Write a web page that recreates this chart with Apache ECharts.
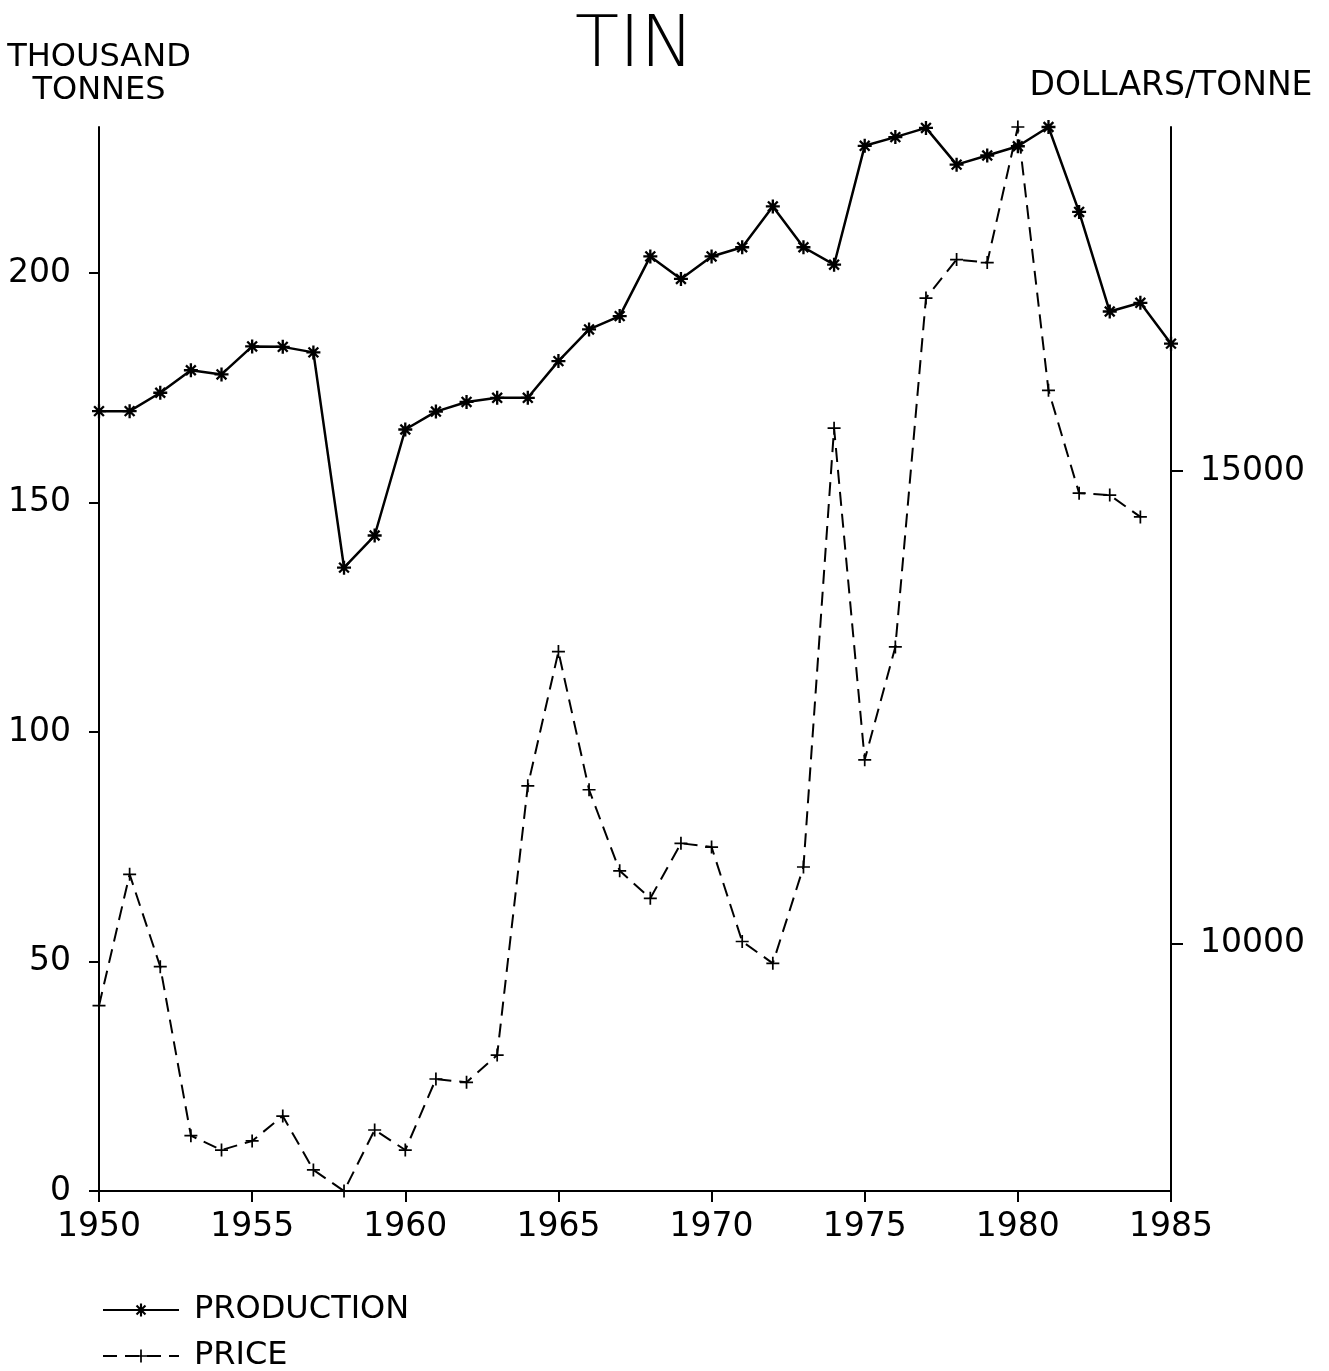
<!DOCTYPE html>
<html>
<head>
<meta charset="utf-8">
<script src="https://cdn.jsdelivr.net/npm/echarts@6/dist/echarts.min.js"></script>
<style>
  html, body { margin: 0; padding: 0; background: #fff; }
  #chart { width: 1329px; height: 1371px; }
</style>
</head>
<body>
<div id="chart"></div>
<script>
  // years and values
  const prodYears = [1950, 1951, 1952, 1953, 1954, 1955, 1956, 1957, 1958, 1959,
    1960, 1961, 1962, 1963, 1964, 1965, 1966, 1967, 1968, 1969,
    1970, 1971, 1972, 1973, 1974, 1975, 1976, 1977, 1978, 1979,
    1980, 1981, 1982, 1983, 1984, 1985]
  const production = [169.9, 169.9, 173.9, 178.8, 177.9, 184.0, 183.9, 182.7, 135.8, 142.8,
    165.9, 169.8, 171.9, 172.8, 172.8, 180.8, 187.7, 190.6, 203.6, 198.7,
    203.6, 205.6, 214.5, 205.6, 201.8, 227.7, 229.6, 231.6, 223.6, 225.6,
    227.6, 231.8, 213.3, 191.6, 193.5, 184.6]
  const priceYears = prodYears.slice(0, 35)
  const price = [9340, 10731, 9753, 7964, 7812, 7908, 8172, 7601, 7378, 8024,
    7812, 8564, 8529, 8818, 11668, 13090, 11627, 10769, 10477, 11060,
    11020, 10020, 9789, 10809, 15456, 11944, 13139, 16834, 17241, 17209,
    18645, 15857, 14767, 14747, 14516]
  const leftTicks = [0, 50, 100, 150, 200]
  const rightTicks = [10000, 15000]

  const font = 'DejaVu Sans'
  const asterisk = 'path://M-1,-6L1,-6L1,-1L6,-1L6,1L1,1L1,6L-1,6L-1,1L-6,1L-6,-1L-1,-1Z' +
    'M-4.9,-3.5L-3.5,-4.9L0,-1.4L3.5,-4.9L4.9,-3.5L1.4,0L4.9,3.5L3.5,4.9L0,1.4L-3.5,4.9L-4.9,3.5L-1.4,0Z'
  const plus = 'path://M-0.8,-6L0.8,-6L0.8,-0.8L6,-0.8L6,0.8L0.8,0.8L0.8,6L-0.8,6L-0.8,0.8L-6,0.8L-6,-0.8L-0.8,-0.8Z'
  const plain = v => String(v)

  const myChart = echarts.init(document.getElementById('chart'))
  const axisLine = { lineStyle: { color: '#000', width: 2 } }
  const legendText = { fontFamily: font, fontSize: 32, color: '#000', padding: [0, 0, 0, 10] }

  const option = {
    backgroundColor: '#fff',
    animation: false,
    title: {
      text: 'TIN',
      left: 570,
      top: 6,
      textStyle: { fontFamily: font, fontSize: 72, fontWeight: 200, color: '#000' }
    },
    legend: [
      {
        left: 97,
        top: 1289,
        itemWidth: 76,
        itemHeight: 16,
        data: ['PRODUCTION'],
        textStyle: legendText
      },
      {
        left: 97,
        top: 1335,
        itemWidth: 76,
        itemHeight: 16,
        data: ['PRICE'],
        textStyle: legendText
      }
    ],
    grid: { left: 99, right: 158, top: 127, bottom: 180 },
    xAxis: {
      type: 'value',
      min: 1950,
      max: 1985,
      interval: 5,
      splitLine: { show: false },
      axisLine: axisLine,
      axisTick: { length: 11, lineStyle: { color: '#000', width: 2 } },
      axisLabel: { fontFamily: font, fontSize: 33, color: '#000', margin: 20, formatter: plain }
    },
    yAxis: [
      {
        type: 'value',
        min: 0,
        max: 'dataMax',
        name: 'THOUSAND\nTONNES',
        nameLocation: 'end',
        nameGap: 20,
        nameTextStyle: { fontFamily: font, fontSize: 32, color: '#000', lineHeight: 33, align: 'center' },
        splitLine: { show: false },
        axisLine: { show: true, lineStyle: { color: '#000', width: 2 } },
        axisTick: { show: true, length: 10, customValues: leftTicks, lineStyle: { color: '#000', width: 2 } },
        axisLabel: { customValues: leftTicks, fontFamily: font, fontSize: 33, color: '#000', margin: 28, formatter: plain }
      },
      {
        type: 'value',
        min: 'dataMin',
        max: 'dataMax',
        position: 'right',
        name: 'DOLLARS/TONNE',
        nameLocation: 'end',
        nameGap: 24,
        nameTextStyle: { fontFamily: font, fontSize: 33, color: '#000' },
        splitLine: { show: false },
        axisLine: { show: true, lineStyle: { color: '#000', width: 2 } },
        axisTick: { show: true, length: 12, customValues: rightTicks, lineStyle: { color: '#000', width: 2 } },
        axisLabel: { customValues: rightTicks, fontFamily: font, fontSize: 33, color: '#000', margin: 29, formatter: plain }
      }
    ],
    series: [
      {
        name: 'PRODUCTION',
        type: 'line',
        yAxisIndex: 0,
        data: prodYears.map((y, i) => [y, production[i]]),
        symbol: asterisk,
        symbolSize: 14,
        showAllSymbol: true,
        lineStyle: { color: '#000', width: 2.5 },
        itemStyle: { color: '#000' }
      },
      {
        name: 'PRICE',
        type: 'line',
        yAxisIndex: 1,
        data: priceYears.map((y, i) => [y, price[i]]),
        symbol: plus,
        symbolSize: 13,
        showAllSymbol: true,
        lineStyle: { color: '#000', width: 2, type: [14, 8] },
        itemStyle: { color: '#000' }
      }
    ]
  }
  myChart.setOption(option)
</script>
</body>
</html>
